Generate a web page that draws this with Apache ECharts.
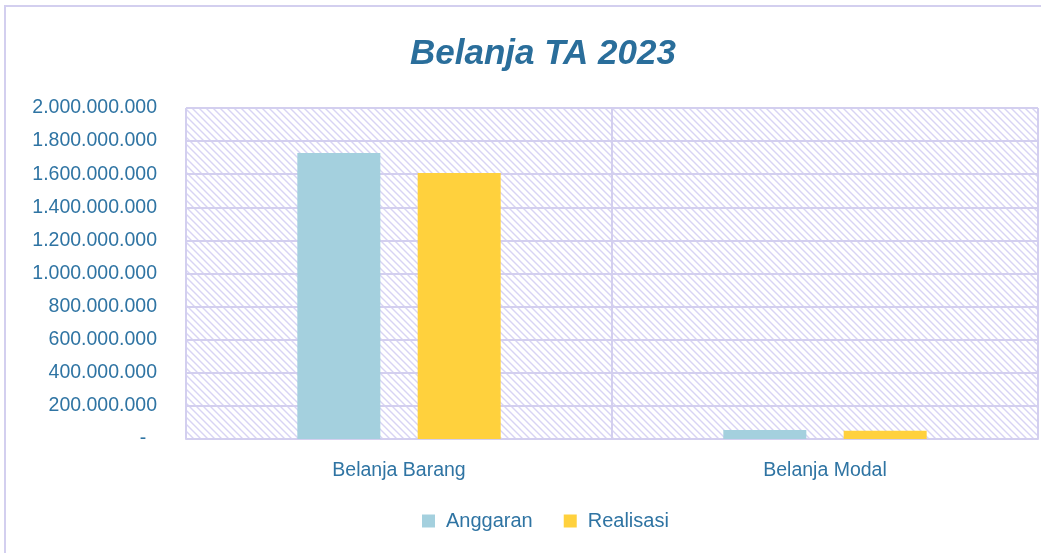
<!DOCTYPE html>
<html>
<head>
<meta charset="utf-8">
<title>Belanja TA 2023</title>
<script src="https://cdn.jsdelivr.net/npm/echarts@6/dist/echarts.min.js"></script>
<style>
  html, body { margin: 0; padding: 0; background: #fff; }
  #chart { width: 1041px; height: 553px; }
</style>
</head>
<body>
<div id="chart"></div>
<script>
const categories = ["Belanja Barang", "Belanja Modal"];
const anggaran = [1728000000, 55000000];
const realisasi = [1607000000, 50000000];
const legendNames = ["Anggaran", "Realisasi"];

const FONT = '"Liberation Sans", Arial, sans-serif';
const TEXT_COLOR = "#2f74a3";
const LINE_COLOR = "#d3cfef";

// diagonal hatch for the plot background
function hatchPattern() {
  const c = document.createElement("canvas");
  c.width = 7;
  c.height = 7;
  const ctx = c.getContext("2d");
  ctx.strokeStyle = "#d8d4f4";
  ctx.lineWidth = 1.4;
  ctx.beginPath();
  ctx.moveTo(-1, -1);
  ctx.lineTo(8, 8);
  ctx.moveTo(-1, 6);
  ctx.lineTo(1, 8);
  ctx.moveTo(6, -1);
  ctx.lineTo(8, 1);
  ctx.stroke();
  return { image: c, repeat: "repeat" };
}

function formatNumber(v) {
  if (v === 0) {
    return "-  ";
  }
  return String(v).replace(/\B(?=(\d{3})+(?!\d))/g, ".");
}

const chart = echarts.init(document.getElementById("chart"), null, { renderer: "canvas" });

chart.setOption({
  backgroundColor: "#fff",
  animation: false,
  title: {
    text: "Belanja TA 2023",
    left: 405,
    top: 32,
    textStyle: {
      fontFamily: FONT,
      fontSize: 35,
      fontWeight: "bold",
      fontStyle: "italic",
      color: "#2a6e9b",
    },
  },
  graphic: [
    {
      type: "polyline",
      shape: { points: [[5, 560], [5, 6], [1050, 6]] },
      style: { stroke: LINE_COLOR, lineWidth: 2, fill: null },
      silent: true,
    },
  ],
  legend: {
    data: legendNames,
    top: 506,
    left: 417,
    itemWidth: 13,
    itemHeight: 13,
    itemGap: 31,
    icon: "rect",
    textStyle: { fontFamily: FONT, fontSize: 20, color: TEXT_COLOR, padding: [0, 0, 0, 6] },
  },
  grid: {
    left: 186,
    right: 3,
    top: 108,
    bottom: 114,
    outerBoundsMode: "none",
    show: true,
    borderWidth: 0,
    backgroundColor: hatchPattern(),
  },
  xAxis: {
    type: "category",
    data: categories,
    axisLine: { show: true, lineStyle: { color: LINE_COLOR, width: 2 } },
    axisTick: { show: false },
    splitLine: { show: true, lineStyle: { color: LINE_COLOR, width: 2 } },
    axisLabel: {
      fontFamily: FONT,
      fontSize: 19.5,
      color: TEXT_COLOR,
      margin: 22,
    },
  },
  yAxis: {
    type: "value",
    min: 0,
    max: 2000000000,
    interval: 200000000,
    axisLine: { show: false },
    axisTick: { show: false },
    splitLine: { lineStyle: { color: LINE_COLOR, width: 2 } },
    axisLabel: {
      fontFamily: FONT,
      fontSize: 19.5,
      color: TEXT_COLOR,
      margin: 29,
      formatter: formatNumber,
    },
  },
  series: [
    {
      name: legendNames[0],
      type: "bar",
      data: anggaran,
      barWidth: 83,
      barGap: "45%",
      itemStyle: { color: "#a4d0de" },
    },
    {
      name: legendNames[1],
      type: "bar",
      data: realisasi,
      barWidth: 83,
      itemStyle: { color: "#ffd13d" },
    },
  ],
});
</script>
</body>
</html>
